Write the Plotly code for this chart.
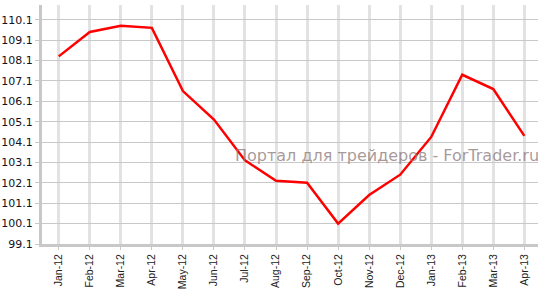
import plotly.graph_objects as go

months = ["Jan-12", "Feb-12", "Mar-12", "Apr-12", "May-12", "Jun-12", "Jul-12", "Aug-12",
          "Sep-12", "Oct-12", "Nov-12", "Dec-12", "Jan-13", "Feb-13", "Mar-13", "Apr-13"]
values = [108.3, 109.5, 109.8, 109.7, 106.6, 105.2, 103.2, 102.2,
          102.1, 100.1, 101.5, 102.5, 104.35, 107.4, 106.7, 104.4]
y_ticks = [99.1, 100.1, 101.1, 102.1, 103.1, 104.1, 105.1, 106.1, 107.1, 108.1, 109.1, 110.1]
y_tick_labels = [f"{v:.1f}" for v in y_ticks]
watermark = "Портал для трейдеров - ForTrader.ru"

x_idx = list(range(len(months)))

fig = go.Figure()
fig.add_trace(go.Scatter(
    x=x_idx, y=values, mode="lines",
    line=dict(color="#ff0000", width=2.5),
    hoverinfo="skip",
))

fig.update_layout(
    width=548, height=290,
    margin=dict(l=42, r=10, t=5, b=46),
    paper_bgcolor="white", plot_bgcolor="white",
    showlegend=False,
    xaxis=dict(
        range=[-0.54, 15.44],
        tickmode="array", tickvals=x_idx, ticktext=months,
        tickangle=-90, automargin=False,
        tickfont=dict(family="Liberation Sans, Arial", size=10.5, color="#222222"),
        showgrid=True, gridcolor="#e2e2e2", gridwidth=2.5,
        showline=True, linecolor="#c8c8c8", linewidth=3,
        ticks="outside", ticklen=3, tickcolor="#c8c8c8", tickwidth=1,
        zeroline=False, fixedrange=True,
    ),
    yaxis=dict(
        range=[99.1, 110.82], automargin=False,
        tickmode="array", tickvals=y_ticks, ticktext=y_tick_labels,
        tickfont=dict(family="DejaVu Sans, Verdana", size=11, color="#111122"),
        showgrid=True, gridcolor="#c8c8c8", gridwidth=1,
        showline=True, linecolor="#c8c8c8", linewidth=3,
        ticks="outside", ticklen=4, tickcolor="#c8c8c8", tickwidth=1,
        zeroline=False, fixedrange=True,
    ),
    annotations=[dict(
        text=watermark, xref="paper", yref="paper",
        x=1.006, y=(244 - 155) / 239, xanchor="right", yanchor="middle",
        showarrow=False,
        font=dict(family="DejaVu Sans, Verdana", size=16, color="rgba(140,120,120,0.75)"),
    )],
)

fig.write_html("out.html")
